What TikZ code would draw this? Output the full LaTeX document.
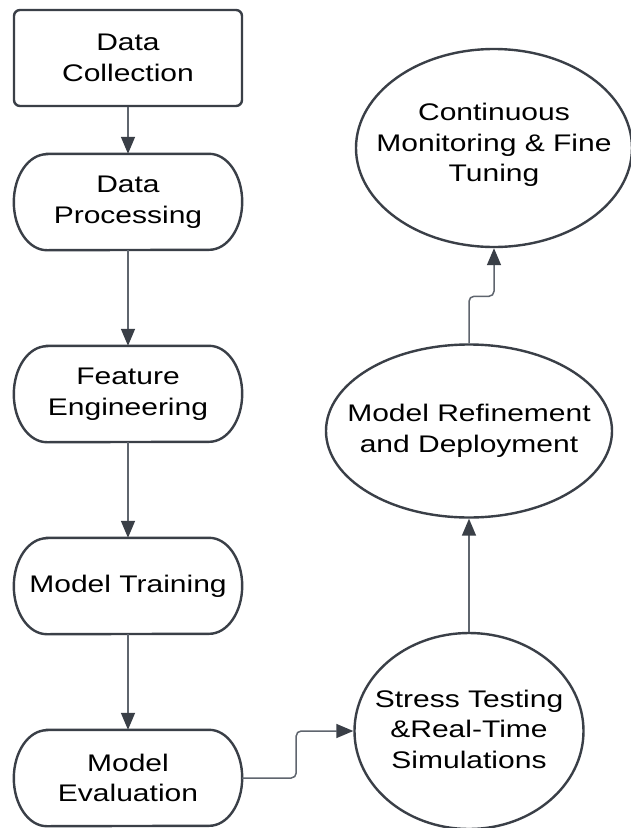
\documentclass[tikz,border=0pt]{standalone}
\usepackage{fontspec}
\setmainfont[FakeStretch=1.25]{Liberation Sans}
\usetikzlibrary{arrows.meta,shapes.geometric}
\definecolor{shapegray}{HTML}{3A3F47}
\definecolor{linkgray}{HTML}{5F656E}
\tikzset{
  shapeline/.style={line width=2.4pt, draw=shapegray},
  blockbox/.style={rectangle, minimum width=228pt, minimum height=96pt, inner sep=0pt},
  ovalbox/.style={ellipse, shapeline, inner sep=0pt},
  steptext/.style={align=center, font=\fontsize{24}{30.5}\selectfont, text=black},
  link/.style={line width=1.5pt, draw=linkgray, -{Triangle[length=17pt,width=14pt,color=shapegray]}},
}
% stadium outline with elliptic caps
\def\stadium(#1){\draw[shapeline] ([xshift=33pt]#1.north west) -- ([xshift=-33pt]#1.north east)
  arc[start angle=90, end angle=-90, x radius=33pt, y radius=48pt] -- ([xshift=33pt]#1.south west)
  arc[start angle=270, end angle=90, x radius=33pt, y radius=48pt] -- cycle;}
\begin{document}
\begin{tikzpicture}[x=1pt, y=1pt]
		%%%%% START %%%%%
		\useasboundingbox[fill=white] (0, 0) rectangle (631, -828);
		
		% left column
		\node[blockbox, shapeline, rounded corners=6pt] (collect) at (128, -58) {};
		\node[blockbox] (process) at (128, -202) {};
		\node[blockbox] (feature) at (128, -394) {};
		\node[blockbox] (train) at (128, -586) {};
		\node[blockbox] (evaluate) at (128, -778) {};
		\foreach \n in {process, feature, train, evaluate} {\stadium(\n)}
		
		% right column
		\node[ovalbox, minimum width=229pt, minimum height=196pt] (stress) at (469, -731) {};
		\node[ovalbox, minimum width=286pt, minimum height=173pt] (refine) at (469, -431) {};
		\node[ovalbox, minimum width=276pt, minimum height=198pt] (monitor) at (494, -148) {};
		
		% texts
		\node[steptext] (collect-t) at (collect) {Data\\Collection};
		\node[steptext] (process-t) at (process) {Data\\Processing};
		\node[steptext] (feature-t) at (feature) {Feature\\Engineering};
		\node[steptext] (train-t) at (train) {Model Training};
		\node[steptext] (evaluate-t) at (evaluate) {Model\\Evaluation};
		\node[steptext] (stress-t) at ([yshift=2pt]stress) {Stress Testing\\\&Real-Time\\Simulations};
		\node[steptext] (refine-t) at (refine) {Model Refinement\\and Deployment};
		\node[steptext] (monitor-t) at ([yshift=3pt]monitor) {Continuous\\Monitoring \& Fine\\Tuning};
		
		% connectors
		\draw[link] (collect) -- (process);
		\draw[link] (process) -- (feature);
		\draw[link] (feature) -- (train);
		\draw[link] (train) -- (evaluate);
		\draw[link, rounded corners=5pt] (evaluate.east) -- ++(54, 0) |- (stress.west);
		\draw[link] (stress) -- (refine);
		\draw[link, rounded corners=5pt] (refine.north) -- ++(0, 47) -| (monitor.south);
		%%%%% END %%%%%
	\end{tikzpicture}
\end{document}
